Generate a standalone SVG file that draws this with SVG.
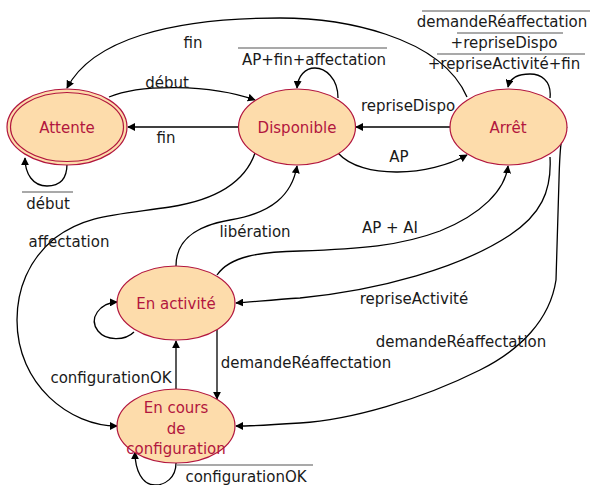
<svg xmlns="http://www.w3.org/2000/svg" width="590" height="485" viewBox="0 0 590 485">
<defs>
<style>
.node{fill:#fddcab;stroke:#b2163e;stroke-width:1.2}
.ring{fill:none;stroke:#b2163e;stroke-width:1.2}
.nl{font-family:"DejaVu Sans",Verdana,sans-serif;font-size:15px;fill:#b2163e;text-anchor:middle}
.lbl{font-family:"DejaVu Sans",Verdana,sans-serif;font-size:15px;fill:#1a1a1a;text-anchor:middle}
.edge{fill:none;stroke:#000;stroke-width:1.3;marker-end:url(#ah)}
.ovl{stroke:#555;stroke-width:1.2}
</style>
<marker id="ah" viewBox="0 0 10 10" refX="9" refY="5" markerWidth="8" markerHeight="8" markerUnits="userSpaceOnUse" orient="auto">
<path d="M0,0 L10,5 L0,10 z" fill="#000"/>
</marker>
</defs>
<rect width="590" height="485" fill="#fff"/>

<g id="connectors">
<path id="e-arret-attente" class="edge" d="M467,97 C440,35 340,18 280,18 C170,18 92,40 67,88"/>
<path id="e-attente-dispo" class="edge" d="M109,97 C140,84 210,84 255,100"/>
<path id="e-dispo-attente" class="edge" d="M238,127 L128,127"/>
<path id="e-attente-self" class="edge" d="M67,164 C67,182 57,186 47,186 C33,186 25,174 25,158"/>
<path id="e-dispo-self" class="edge" d="M338,98 C338,78 325,68 315,68 C305,68 298,76 297,88"/>
<path id="e-arret-dispo" class="edge" d="M450,127 L356,127"/>
<path id="e-dispo-arret" class="edge" d="M338,153 C362,180 430,176 467,155"/>
<path id="e-arret-self" class="edge" d="M550,98 C552,80 540,74 530,74 C518,74 510,78 508,87"/>
<path id="e-activite-arret" class="edge" d="M217,275 C230,256 260,252 300,251 C360,249 400,246 440,231 C482,214 505,190 508,166"/>
<path id="e-arret-activite" class="edge" d="M550,157 C552,192 540,215 510,235 C460,268 380,290 300,298 C270,300 252,302 236,303"/>
<path id="e-arret-config" class="edge" d="M567,127 C562,132 560,140 559,180 L556,280 C550,320 520,350 480,370 C420,400 350,420 300,423 C270,425 252,426 236,426"/>
<path id="e-dispo-config" class="edge" d="M255,153 C245,182 215,200 170,207 C115,215 85,215 55,238 C28,260 17,290 17,320 C17,385 70,426 117,426"/>
<path id="e-activite-dispo" class="edge" d="M176,266 C176,240 195,226 230,220 C272,213 292,195 297,166"/>
<path id="e-activite-self" class="edge" d="M134,332 C125,341 106,341 98,331 C88,318 100,303 117,302"/>
<path id="e-config-activite" class="edge" d="M176,389 L176,341"/>
<path id="e-activite-config" class="edge" d="M217,328 L217,399"/>
<path id="e-config-self" class="edge" d="M176,463 C176,478 165,485 155,485 C142,485 135,470 135,452"/>
</g>

<g id="labels">
<text class="lbl" x="193" y="48">fin</text>
<text class="lbl" x="167" y="88">début</text>
<text class="lbl" x="166" y="143">fin</text>
<line class="ovl" x1="22" y1="192" x2="73" y2="192"/>
<text class="lbl" x="48" y="209">début</text>
<line class="ovl" x1="238" y1="48" x2="387" y2="48"/>
<text class="lbl" x="314" y="65">AP+fin+affectation</text>
<line class="ovl" x1="422" y1="11" x2="590" y2="11"/>
<text class="lbl" x="502" y="27">demandeRéaffectation</text>
<line class="ovl" x1="457" y1="33" x2="563" y2="33"/>
<text class="lbl" x="504" y="48">+repriseDispo</text>
<line class="ovl" x1="437" y1="54" x2="585" y2="54"/>
<text class="lbl" x="504" y="69">+repriseActivité+fin</text>
<text class="lbl" x="408" y="111">repriseDispo</text>
<text class="lbl" x="399" y="162">AP</text>
<text class="lbl" x="255" y="237">libération</text>
<text class="lbl" x="69" y="247">affectation</text>
<text class="lbl" x="390" y="233">AP + AI</text>
<text class="lbl" x="414" y="304">repriseActivité</text>
<text class="lbl" x="461" y="347">demandeRéaffectation</text>
<text class="lbl" x="306" y="368">demandeRéaffectation</text>
<text class="lbl" x="111" y="383">configurationOK</text>
<line class="ovl" x1="177" y1="465" x2="313" y2="465"/>
<text class="lbl" x="246" y="482">configurationOK</text>
</g>

<g id="node-attente">
<ellipse class="node" cx="67" cy="127" rx="60" ry="38"/>
<ellipse class="ring" cx="67" cy="127" rx="56.5" ry="34.5"/>
<text class="nl" x="67" y="133">Attente</text>
</g>
<g id="node-disponible">
<ellipse class="node" cx="297" cy="127" rx="58.5" ry="38"/>
<text class="nl" x="297" y="133">Disponible</text>
</g>
<g id="node-arret">
<ellipse class="node" cx="508.5" cy="127" rx="58.5" ry="38"/>
<text class="nl" x="508" y="133">Arrêt</text>
</g>
<g id="node-activite">
<ellipse class="node" cx="176" cy="303" rx="59" ry="37"/>
<text class="nl" x="176" y="309">En activité</text>
</g>
<g id="node-config">
<ellipse class="node" cx="176" cy="426" rx="59" ry="37"/>
<text class="nl" x="176" y="413">En cours</text>
<text class="nl" x="176" y="434">de</text>
<text class="nl" x="176" y="454">configuration</text>
</g>
</svg>
